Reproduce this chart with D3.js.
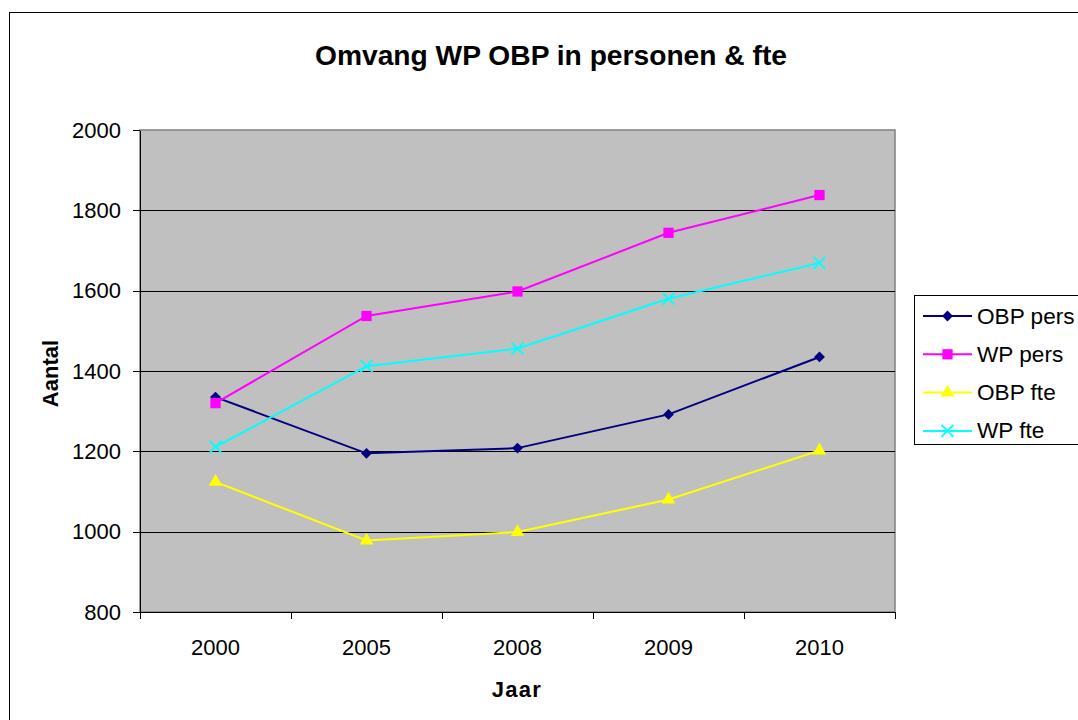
<!DOCTYPE html>
<html lang="nl">
<head>
<meta charset="utf-8">
<title>Omvang WP OBP</title>
<script src="https://d3js.org/d3.v7.min.js"></script>
<style>
    body { margin: 0; background: #fff; }
    text { font-family: "Liberation Sans", Arial, sans-serif; fill: #000; }
    .axis path, .axis line { stroke: #000; shape-rendering: crispEdges; }
    .axis text { font-size: 22px; }
</style>
</head>
<body>
<div id="chart"></div>
<script>
// data
const years = ["2000", "2005", "2008", "2009", "2010"];
const obpPers = [1335, 1195, 1208, 1292, 1435];
const wpPers  = [1320, 1537, 1598, 1744, 1838];
const obpFte  = [1124, 978, 999, 1080, 1202];
const wpFte   = [1211, 1412, 1456, 1580, 1669];
const yTicks  = [800, 1000, 1200, 1400, 1600, 1800, 2000];

const series = [
    {name: "OBP pers", values: obpPers, color: "#000080", marker: "diamond"},
    {name: "WP pers",  values: wpPers,  color: "#ff00ff", marker: "square"},
    {name: "OBP fte",  values: obpFte,  color: "#ffff00", marker: "triangle"},
    {name: "WP fte",   values: wpFte,   color: "#00ffff", marker: "x"}
];

const W = 1078, H = 720;
const plot = {left: 140, top: 130, right: 895, bottom: 612};

const svg = d3.select("#chart").append("svg")
    .attr("width", W).attr("height", H);

// outer chart border
svg.append("rect")
    .attr("x", 9.5).attr("y", 12.5)
    .attr("width", W + 20).attr("height", H + 20)
    .attr("fill", "#fff").attr("stroke", "#000").attr("stroke-width", 1);

const x = d3.scaleBand().domain(years).range([plot.left, plot.right]);
const y = d3.scaleLinear().domain([800, 2000]).range([plot.bottom, plot.top]);

// plot area
svg.append("rect")
    .attr("x", plot.left).attr("y", plot.top)
    .attr("width", plot.right - plot.left).attr("height", plot.bottom - plot.top)
    .attr("fill", "#c0c0c0").attr("stroke", "#808080").attr("stroke-width", 1.5);

// gridlines
svg.append("g").selectAll("line")
    .data(yTicks.slice(1, -1))
    .join("line")
    .attr("x1", plot.left).attr("x2", plot.right)
    .attr("y1", d => Math.round(y(d)) + 0.5).attr("y2", d => Math.round(y(d)) + 0.5)
    .attr("stroke", "#000").attr("stroke-width", 1);

// y axis
svg.append("g")
    .attr("class", "axis")
    .attr("transform", `translate(${plot.left},0)`)
    .call(d3.axisLeft(y).tickValues(yTicks).tickSize(7).tickSizeOuter(0).tickPadding(12).tickFormat(d3.format("d")));

// x axis, ticks between categories
const xg = svg.append("g")
    .attr("class", "axis")
    .attr("transform", `translate(0,${plot.bottom})`)
    .call(d3.axisBottom(x).tickSize(0).tickPadding(27));
xg.selectAll(".sep")
    .data(years.concat(["end"]))
    .join("line")
    .attr("class", "sep")
    .attr("x1", (d, i) => plot.left + i * x.step())
    .attr("x2", (d, i) => plot.left + i * x.step())
    .attr("y1", 0).attr("y2", 7);

// lines
const line = d3.line()
    .x((d, i) => x(years[i]) + x.bandwidth() / 2)
    .y(d => y(d));

const markerPath = {
    diamond: d3.symbol().type(d3.symbolDiamond2).size(75)(),
    square: d3.symbol().type(d3.symbolSquare).size(105)(),
    triangle: d3.symbol().type(d3.symbolTriangle).size(80)(),
    x: d3.symbol().type(d3.symbolTimes).size(95)()
};

function drawMarker(g, s, cx, cy) {
    const p = g.append("path")
        .attr("d", markerPath[s.marker])
        .attr("transform", `translate(${cx},${cy})`);
    if (s.marker === "x") {
        p.attr("fill", "none").attr("stroke", s.color).attr("stroke-width", 1.8);
    } else {
        p.attr("fill", s.color).attr("stroke", "none");
    }
}

series.forEach(s => {
    svg.append("path")
        .datum(s.values)
        .attr("fill", "none")
        .attr("stroke", s.color)
        .attr("stroke-width", 2)
        .attr("d", line);
    const g = svg.append("g");
    s.values.forEach((v, i) => drawMarker(g, s, x(years[i]) + x.bandwidth() / 2, y(v)));
});

// title
svg.append("text")
    .attr("x", 551).attr("y", 64.5)
    .attr("text-anchor", "middle")
    .attr("font-size", "28.2px").attr("font-weight", "bold")
    .text("Omvang WP OBP in personen & fte");

svg.append("text")
    .attr("transform", "translate(57.5,373.5) rotate(-90)")
    .attr("text-anchor", "middle")
    .attr("font-size", "22px").attr("font-weight", "bold")
    .text("Aantal");

svg.append("text")
    .attr("x", 517).attr("y", 697)
    .attr("text-anchor", "middle")
    .attr("font-size", "22px").attr("font-weight", "bold")
    .attr("letter-spacing", "1.3px")
    .text("Jaar");

// legend
const lg = svg.append("g");
lg.append("rect")
    .attr("x", 914.5).attr("y", 295.5)
    .attr("width", 200).attr("height", 149)
    .attr("fill", "#fff").attr("stroke", "#000");
series.forEach((s, i) => {
    const ly = 316 + i * 38.3;
    lg.append("line")
        .attr("x1", 923).attr("x2", 972)
        .attr("y1", ly).attr("y2", ly)
        .attr("stroke", s.color).attr("stroke-width", 2);
    drawMarker(lg, s, 947.5, ly);
    lg.append("text")
        .attr("x", 977).attr("y", ly + 7.5)
        .attr("font-size", "22.6px")
        .text(s.name);
});
</script>
</body>
</html>
